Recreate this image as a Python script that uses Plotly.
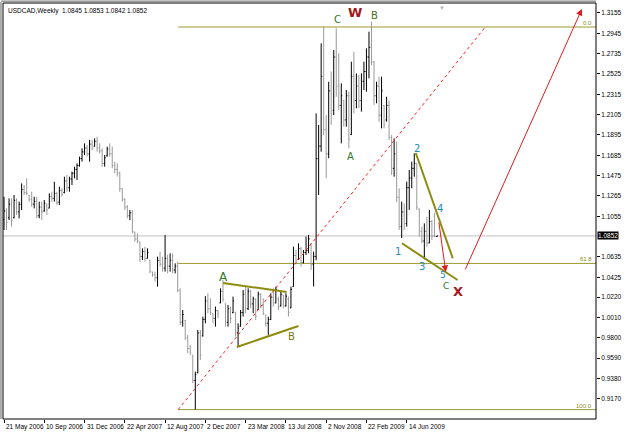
import plotly.graph_objects as go

# ---------------- data (weekly USDCAD bars) ----------------
opens = [1.1020,1.1110,1.1040,1.1180,1.1040,1.1220,1.1100,1.1180,1.1330,1.1300,
         1.1270,1.1230,1.1180,1.1210,1.1060,1.1150,1.1110,1.1170,1.1140,1.1260,
         1.1240,1.1290,1.1200,1.1320,1.1300,1.1420,1.1350,1.1440,1.1500,1.1540,
         1.1580,1.1650,1.1720,1.1760,1.1700,1.1800,1.1780,1.1830,1.1760,1.1730,
         1.1600,1.1680,1.1750,1.1700,1.1580,1.1540,1.1500,1.1340,1.1230,1.1150,
         1.1060,1.1090,1.0890,1.0820,1.0790,1.0640,1.0690,1.0620,1.0600,1.0480,
         1.0450,1.0420,1.0600,1.0560,1.0520,1.0620,1.0540,1.0600,1.0500,1.0540,
         1.0290,0.9960,0.9980,0.9800,0.9690,0.9620,0.9360,0.9440,0.9850,0.9820,
         0.9990,1.0180,1.0100,1.0050,1.0000,1.0080,1.0160,1.0280,1.0150,0.9960,
         1.0100,1.0060,1.0060,0.9850,0.9920,1.0060,1.0250,1.0100,1.0280,1.0150,
         1.0200,1.0090,1.0250,1.0130,1.0036,0.9950,0.9990,1.0220,1.0160,1.0200,
         1.0130,1.0240,1.0130,1.0200,1.0110,1.0330,1.0650,1.0610,1.0720,1.0580,
         1.0680,1.0700,1.0770,1.0560,1.0640,1.1650,1.1780,1.2500,1.1950,1.1700,
         1.2350,1.2150,1.2700,1.2400,1.2200,1.2250,1.2050,1.2300,1.1900,1.2500,
         1.2250,1.2400,1.2250,1.2450,1.2550,1.2700,1.2800,1.2650,1.2300,1.2400,
         1.2100,1.2200,1.2050,1.2200,1.1870,1.1550,1.1700,1.1250,1.0950,1.1100,
         1.0980,1.1350,1.1450,1.1550,1.1600,1.1130,1.0900,1.0800,1.0900,1.0780,
         1.1000,1.0850,1.0845]
highs = [1.1257,1.1137,1.1240,1.1240,1.1275,1.1240,1.1206,1.1395,1.1378,1.1447,
         1.1275,1.1309,1.1257,1.1257,1.1206,1.1206,1.1223,1.1189,1.1292,1.1309,
         1.1412,1.1309,1.1361,1.1343,1.1464,1.1481,1.1464,1.1516,1.1567,1.1602,
         1.1671,1.1757,1.1808,1.1791,1.1843,1.1843,1.1860,1.1877,1.1808,1.1757,
         1.1688,1.1774,1.1808,1.1774,1.1619,1.1602,1.1516,1.1343,1.1240,1.1171,
         1.1120,1.1120,1.0896,1.0879,1.0793,1.0724,1.0741,1.0724,1.0603,1.0483,
         1.0483,1.0638,1.0689,1.0638,1.0861,1.0655,1.0672,1.0672,1.0569,1.0586,
         1.0311,1.0087,0.9984,0.9829,0.9726,0.9622,0.9450,0.9881,0.9881,1.0018,
         1.0230,1.0259,1.0208,1.0053,1.0122,1.0087,1.0311,1.0397,1.0156,1.0139,
         1.0122,1.0225,1.0070,0.9950,1.0087,1.0294,1.0328,1.0311,1.0294,1.0225,
         1.0208,1.0277,1.0259,1.0208,1.0036,1.0018,1.0259,1.0311,1.0328,1.0225,
         1.0277,1.0242,1.0259,1.0225,1.0328,1.0741,1.0707,1.0776,1.0741,1.0707,
         1.0845,1.0862,1.0776,1.0690,1.2118,1.1998,1.2841,1.3014,1.2101,1.2445,
         1.2550,1.2772,1.2996,1.2738,1.2428,1.2256,1.2359,1.2342,1.2652,1.2755,
         1.2530,1.2514,1.2531,1.2652,1.2790,1.2962,1.3065,1.2660,1.2445,1.2497,
         1.2497,1.2204,1.2290,1.2250,1.1895,1.1860,1.1826,1.1344,1.1206,1.1189,
         1.1413,1.1533,1.1619,1.1705,1.1602,1.1137,1.0948,1.0982,1.1051,1.1120,
         1.1017,1.1090,1.0853]
lows = [1.0913,1.0913,1.1016,1.0948,1.1034,1.1068,1.1034,1.1120,1.1275,1.1275,
        1.1206,1.1154,1.1137,1.1034,1.1034,1.1016,1.1102,1.1068,1.1137,1.1206,
        1.1206,1.1171,1.1171,1.1257,1.1292,1.1309,1.1309,1.1378,1.1447,1.1430,
        1.1567,1.1619,1.1688,1.1671,1.1619,1.1739,1.1774,1.1722,1.1705,1.1567,
        1.1567,1.1671,1.1671,1.1550,1.1498,1.1464,1.1309,1.1206,1.1120,1.1034,
        1.1016,1.0879,1.0793,1.0776,1.0586,1.0603,1.0586,1.0620,1.0465,1.0431,
        1.0379,1.0328,1.0534,1.0483,1.0483,1.0465,1.0483,1.0465,1.0465,1.0270,
        0.9932,0.9915,0.9777,0.9640,0.9622,0.9330,0.9058,0.9433,0.9571,0.9812,
        0.9950,1.0053,1.0036,0.9950,0.9915,1.0001,1.0156,1.0173,0.9915,0.9915,
        0.9950,1.0053,0.9812,0.9712,0.9915,1.0018,1.0053,1.0087,1.0104,1.0053,
        0.9984,1.0087,1.0104,1.0036,0.9915,0.9830,0.9984,1.0122,1.0156,1.0087,
        1.0122,1.0104,1.0122,1.0018,1.0104,1.0328,1.0569,1.0604,1.0535,1.0569,
        1.0655,1.0673,1.0500,1.0330,1.0600,1.1275,1.1722,1.1894,1.1447,1.1654,
        1.2000,1.2101,1.2290,1.2153,1.1808,1.1981,1.1981,1.1757,1.1894,1.2118,
        1.2170,1.2170,1.2136,1.2359,1.2342,1.2480,1.2618,1.2204,1.2222,1.2032,
        1.1963,1.1963,1.2032,1.1843,1.1482,1.1464,1.1200,1.0914,1.0830,1.0914,
        1.0948,1.1120,1.1344,1.1464,1.1120,1.0845,1.0776,1.0610,1.0741,1.0776,
        1.0810,1.0840,1.0842]
closes = [1.1110,1.0990,1.1180,1.1010,1.1220,1.1100,1.1180,1.1330,1.1300,1.1290,
          1.1230,1.1180,1.1210,1.1060,1.1150,1.1100,1.1190,1.1120,1.1260,1.1240,
          1.1290,1.1200,1.1320,1.1280,1.1420,1.1350,1.1440,1.1500,1.1540,1.1580,
          1.1650,1.1720,1.1760,1.1700,1.1800,1.1760,1.1830,1.1760,1.1730,1.1600,
          1.1660,1.1750,1.1700,1.1580,1.1540,1.1500,1.1340,1.1230,1.1150,1.1060,
          1.1090,1.0900,1.0820,1.0800,1.0640,1.0690,1.0620,1.0680,1.0490,1.0450,
          1.0420,1.0600,1.0560,1.0520,1.0620,1.0540,1.0600,1.0500,1.0540,1.0290,
          0.9960,1.0040,0.9800,0.9690,0.9650,0.9360,0.9420,0.9850,0.9620,0.9990,
          1.0180,1.0100,1.0060,1.0000,1.0080,1.0050,1.0280,1.0200,0.9960,1.0100,
          1.0000,1.0180,0.9850,0.9900,1.0060,1.0250,1.0100,1.0280,1.0150,1.0200,
          1.0020,1.0250,1.0130,1.0050,0.9950,0.9990,1.0220,1.0160,1.0300,1.0120,
          1.0250,1.0130,1.0230,1.0060,1.0300,1.0650,1.0600,1.0720,1.0580,1.0680,
          1.0700,1.0820,1.0560,1.0640,1.1650,1.1780,1.2500,1.1950,1.1700,1.2350,
          1.2100,1.2700,1.2400,1.2200,1.2300,1.2050,1.2300,1.1850,1.2500,1.2250,
          1.2400,1.2250,1.2450,1.2550,1.2700,1.2800,1.2650,1.2300,1.2400,1.2100,
          1.2350,1.2000,1.2200,1.1870,1.1550,1.1700,1.1250,1.0950,1.1100,1.0980,
          1.1350,1.1450,1.1550,1.1600,1.1150,1.0900,1.0800,1.0900,1.0780,1.1000,
          1.0850,1.0845,1.0852]

date_tick_bars = [0, 16, 32, 48, 64, 80, 96, 112, 128, 144, 160]
date_tick_labels = ["21 May 2006", "10 Sep 2006", "31 Dec 2006", "22 Apr 2007", "12 Aug 2007",
                    "2 Dec 2007", "23 Mar 2008", "13 Jul 2008", "2 Nov 2008", "22 Feb 2009", "14 Jun 2009"]
price_ticks = [1.3155, 1.2945, 1.2735, 1.2525, 1.2315, 1.2105, 1.1895, 1.1685, 1.1475, 1.1265,
               1.1055, 1.0635, 1.0425, 1.0220, 1.0010, 0.9800, 0.9590, 0.9380, 0.9170, 0.8960]
price_tick_labels = ["%.4f" % v for v in price_ticks]

last_price = 1.0852
title_text = "USDCAD,Weekly  1.0845 1.0853 1.0842 1.0852"

# Fibonacci levels (anchor bar, price, label)
fib_start_bar = 69.2
fib_levels = [1.3010, 1.0568, 0.9058]
fib_labels = ["0.0", "61.8", "100.0"]

# drawn trend lines in (bar, price) coordinates
red_dotted = [(69.2, 0.9058), (190.9, 1.3000)]
olive_lines = [
    [(87.0, 1.0366), (112.3, 1.0273)],
    [(92.5, 0.9705), (117.0, 0.9922)],
    [(163.6, 1.1709), (178.3, 1.0621)],
    [(158.1, 1.0776), (180.2, 1.0397)],
]
red_arrows = [  # (from bar, from price, to bar, to price)
    (172.7, 1.1006, 175.5, 1.0480),
    (183.0, 1.0490, 229.6, 1.3196),
]
# wave labels: text, bar, price, color, size, bold
wave_labels = [
    ("W", 139.5, 1.3158, "#a3161b", 13, True),
    ("C", 132.5, 1.3090, "#2f7a1f", 10, False),
    ("B", 147.0, 1.3134, "#4b6a12", 10, False),
    ("A", 137.5, 1.1671, "#2f7a1f", 10, False),
    ("A", 87.1, 1.0431, "#2f7a1f", 12, False),
    ("B", 114.1, 0.9811, "#6f7a10", 10, False),
    ("1", 156.7, 1.0689, "#2589bd", 10, False),
    ("2", 163.9, 1.1757, "#2589bd", 10, False),
    ("3", 166.1, 1.0534, "#2589bd", 10, False),
    ("4", 173.4, 1.1138, "#2589bd", 10, False),
    ("5", 174.6, 1.0452, "#2589bd", 9, False),
    ("C", 175.8, 1.0330, "#2f7a1f", 9, False),
    ("X", 180.4, 1.0276, "#a3161b", 13, True),
]
shift_marker_bar = 174.0

X_RANGE = [-0.4, 235.2]
Y_RANGE = [0.8961, 1.3258]
FONT = "Liberation Sans, Arial, sans-serif"
OLIVE = "#9a9a30"

bars = list(range(len(opens)))

fig = go.Figure()
fig.add_trace(go.Ohlc(
    x=bars, open=opens, high=highs, low=lows, close=closes,
    increasing=dict(line=dict(color="#000000", width=1)),
    decreasing=dict(line=dict(color="#9a9a9a", width=1)),
    tickwidth=0.4, hoverinfo="skip", showlegend=False,
))

shapes = []
# current price line
shapes.append(dict(type="line", xref="paper", x0=0, x1=1, yref="y", y0=last_price, y1=last_price,
                   line=dict(color="#c0c0c0", width=1), layer="below"))
# fib levels
for lv in fib_levels:
    shapes.append(dict(type="line", xref="x", x0=fib_start_bar, x1=X_RANGE[1], yref="y", y0=lv, y1=lv,
                       line=dict(color=OLIVE, width=1), layer="below"))
# red dotted trend line
shapes.append(dict(type="line", xref="x", yref="y",
                   x0=red_dotted[0][0], y0=red_dotted[0][1], x1=red_dotted[1][0], y1=red_dotted[1][1],
                   line=dict(color="#ff2020", width=1, dash="dot")))
# olive trend lines
for seg in olive_lines:
    shapes.append(dict(type="line", xref="x", yref="y", x0=seg[0][0], y0=seg[0][1], x1=seg[1][0], y1=seg[1][1],
                       line=dict(color="#8c8c10", width=2)))
# frame
shapes.append(dict(type="rect", xref="paper", yref="paper", x0=0, y0=0, x1=1, y1=1,
                   line=dict(color="#000000", width=1)))
shapes.append(dict(type="line", xref="paper", yref="paper", x0=-0.0034, x1=-0.0034, y0=0, y1=1.002,
                   line=dict(color="#606060", width=1)))
shapes.append(dict(type="line", xref="paper", yref="paper", x0=-0.0034, x1=1, y0=1.0045, y1=1.0045,
                   line=dict(color="#606060", width=1)))

annotations = []
annotations.append(dict(text=title_text, xref="paper", yref="paper", x=0, y=1, xanchor="left", yanchor="top",
                        xshift=3, yshift=-2, showarrow=False, font=dict(family=FONT, size=6.5, color="#000000")))
for b, lab in zip(date_tick_bars, date_tick_labels):
    annotations.append(dict(text=lab, xref="x", yref="paper", x=b, y=0, xanchor="left", yanchor="top",
                            xshift=0, yshift=-2, showarrow=False,
                            font=dict(family=FONT, size=6.5, color="#000000")))
for lv, lab in zip(fib_levels, fib_labels):
    annotations.append(dict(text=lab, xref="paper", yref="y", x=1, y=lv, xanchor="right", yanchor="bottom",
                            xshift=-2, yshift=-1, showarrow=False, font=dict(family=FONT, size=6, color="#8a8a20")))
annotations.append(dict(text=f"{last_price:.4f}", xref="paper", yref="y", x=1, y=last_price,
                        xanchor="left", yanchor="middle", xshift=1, showarrow=False,
                        bgcolor="#000000", font=dict(family=FONT, size=6.5, color="#ffffff"), borderpad=0))
for (xa, ya, xb, yb) in red_arrows:
    annotations.append(dict(x=xb, y=yb, ax=xa, ay=ya, xref="x", yref="y", axref="x", ayref="y",
                            text="", showarrow=True, arrowhead=2, arrowsize=1.3, arrowwidth=1,
                            arrowcolor="#dd1d1d"))
for (t, b, p, col, sz, bold) in wave_labels:
    annotations.append(dict(text=f"<b>{t}</b>" if bold else t, x=b, y=p, xref="x", yref="y",
                            showarrow=False, font=dict(family="DejaVu Sans, sans-serif", size=sz, color=col)))
annotations.append(dict(text="▼", xref="x", yref="paper", x=shift_marker_bar, y=1, yanchor="top", yshift=1,
                        showarrow=False, font=dict(size=6, color="#b0b0b0")))

fig.update_layout(
    width=625, height=432,
    margin=dict(l=3, r=27, t=3, b=13),
    paper_bgcolor="#ffffff", plot_bgcolor="#ffffff",
    shapes=shapes, annotations=annotations, showlegend=False,
    xaxis=dict(range=X_RANGE, showgrid=False, zeroline=False, showline=False,
               tickvals=date_tick_bars, ticks="outside", ticklen=3, tickcolor="#000000",
               showticklabels=False, rangeslider=dict(visible=False), fixedrange=True),
    yaxis=dict(range=Y_RANGE, side="right", showgrid=False, zeroline=False, showline=False,
               tickvals=price_ticks, ticktext=price_tick_labels, ticks="outside", ticklen=3,
               tickcolor="#000000", tickfont=dict(family=FONT, size=6.5, color="#000000"),
               fixedrange=True),
)

fig.write_html("out.html", config={"displayModeBar": False})
